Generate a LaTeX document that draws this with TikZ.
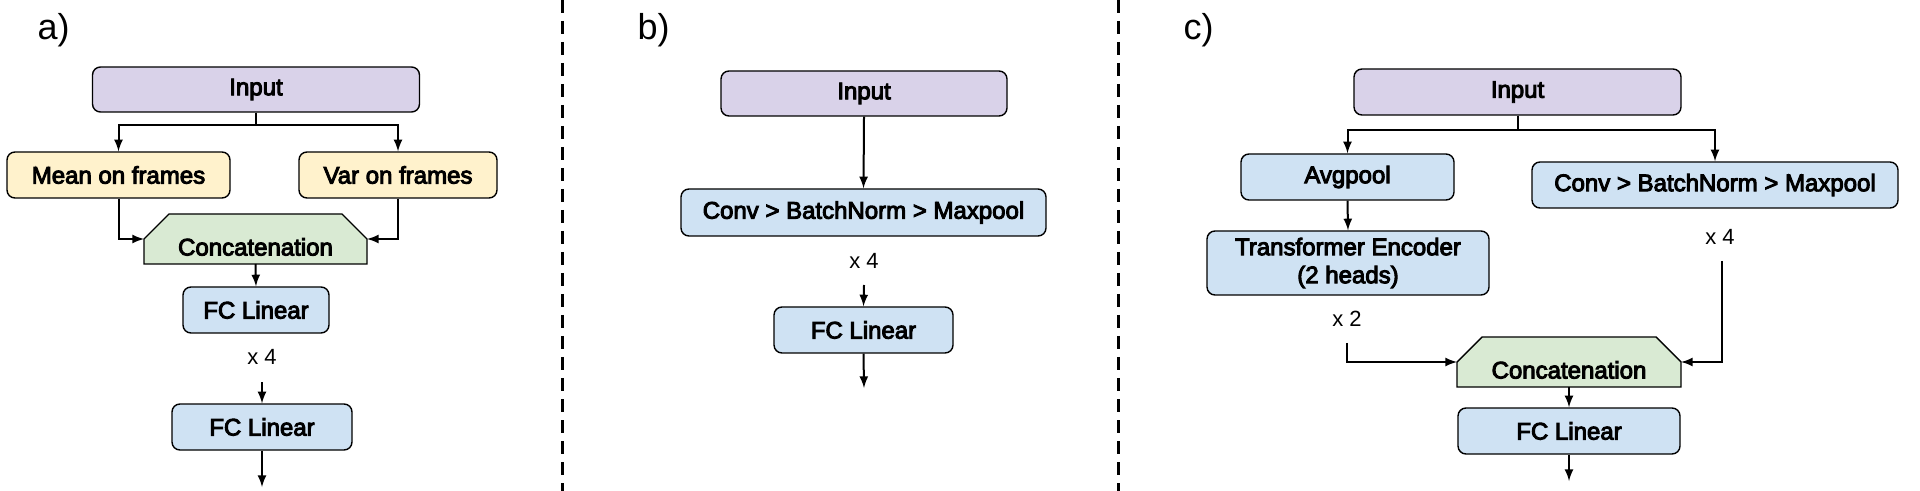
\documentclass[tikz,border=0pt]{standalone}
\usepackage{fontspec}
\setmainfont{Liberation Sans}
\newfontfamily\medfont{Liberation Sans}[FakeBold=4]
\usetikzlibrary{arrows}
\usetikzlibrary{backgrounds}
\tikzset{>=latex}
\definecolor{inputcol}{HTML}{D9D2E9}
\definecolor{statcol}{HTML}{FFF2CC}
\definecolor{concatcol}{HTML}{D9EAD3}
\definecolor{layercol}{HTML}{CFE2F3}
\def\flowthickness{1pt}
\def\boxthickness{0.7pt}
% chamfered outline behind a concat node
\newcommand{\concatshape}[1]{%
  \begin{pgfonlayer}{background}
    \draw[-, fill=concatcol, line width=\boxthickness] (#1.south west) -- (#1.south east) -- (#1.east)
      -- ([xshift=-12.5pt]#1.north east) -- ([xshift=12.5pt]#1.north west) -- (#1.west) -- cycle;
  \end{pgfonlayer}}
\tikzset{
  block/.style={draw, rounded corners=4pt, line width=\boxthickness, minimum height=23pt,
    inner sep=2pt, align=center, font=\medfont\fontsize{12}{14}\selectfont},
  inputbox/.style={block, fill=inputcol},
  statbox/.style={block, fill=statcol},
  layerbox/.style={block, fill=layercol},
  concatbox/.style={rectangle, outer sep=0pt, inner sep=0pt, minimum width=111.5pt,
    minimum height=25pt, text height=16.5pt, text depth=0pt, font=\medfont\fontsize{12}{14}\selectfont},
  reptext/.style={font=\fontsize{11}{13}\selectfont},
  panellabel/.style={anchor=base west, font=\fontsize{18}{20}\selectfont},
}

\begin{document}
\begin{tikzpicture}[x=0.5pt, y=-0.5pt, ->, line width=\flowthickness]
    \useasboundingbox (0, 0) rectangle (1920, 491);
    % separators
    \draw[-, dash pattern=on 6.5pt off 4pt, line width=1.5pt] (562, 0) -- (562, 491);
    \draw[-, dash pattern=on 6.5pt off 4pt, line width=1.5pt] (1118, 0) -- (1118, 491);

    % a)
    \node[panellabel] at (30, 40) (alabel) {a)};
    \node[inputbox, minimum width=163.5pt, minimum height=22.5pt] at (256, 89.5) (ainput) {Input};
    \node[statbox, minimum width=111.5pt] at (118.5, 175) (amean) {Mean on frames};
    \node[statbox, minimum width=99pt] at (398, 175) (avar) {Var on frames};
    \node[concatbox] at (255.5, 239) (aconcat) {Concatenation};
    \node[layerbox, minimum width=73pt] at (256, 310) (afc1) {FC Linear};
    \node[reptext] at (262, 357) (arep) {x 4};
    \coordinate (astart) at (262, 382);
    \node[layerbox, minimum width=90pt] at (262, 427) (afc2) {FC Linear};
    \coordinate (aend) at (262, 487);
    \draw (ainput.south) -- ++(0, 12) -| (amean.north);
    \draw (ainput.south) -- ++(0, 12) -| (avar.north);
    \draw (amean.south) |- (aconcat.west);
    \draw (avar.south) |- (aconcat.east);
    \draw (aconcat.south) -- (afc1.north);
    \draw (astart) -- (afc2.north);
    \draw (afc2.south) -- (aend);

    % b)
    \node[panellabel] at (630, 40) (blabel) {b)};
    \node[inputbox, minimum width=143pt, minimum height=22.5pt] at (864, 93.5) (binput) {Input};
    \node[layerbox, minimum width=182.5pt, minimum height=23.5pt] at (863.5, 212.5) (bconv) {Conv > BatchNorm > Maxpool};
    \node[reptext] at (864, 261) (brep) {x 4};
    \coordinate (bstart) at (864, 285);
    \node[layerbox, minimum width=89.5pt] at (863.5, 330) (bfc) {FC Linear};
    \coordinate (bend) at (864, 388);
    \draw (binput.south) -- (bconv.north);
    \draw (bstart) -- (bfc.north);
    \draw (bfc.south) -- (bend);

    % c)
    \node[panellabel] at (1176, 40) (clabel) {c)};
    \node[inputbox, minimum width=163.5pt] at (1517.5, 92) (cinput) {Input};
    \node[layerbox, minimum width=106.5pt] at (1347.5, 177) (cavg) {Avgpool};
    \node[layerbox, minimum width=183pt] at (1715, 185) (cconv) {Conv > BatchNorm > Maxpool};
    \node[layerbox, minimum width=141pt, minimum height=32pt] at (1348, 263) (ctrans) {Transformer Encoder\\(2 heads)};
    \node[reptext] at (1347, 319) (crep2) {x 2};
    \node[reptext] at (1720, 237) (crep4) {x 4};
    \coordinate (cstart2) at (1347, 343);
    \coordinate (cstart4) at (1722, 261);
    \node[concatbox, minimum width=112pt] at (1569, 362) (cconcat) {Concatenation};
    \node[layerbox, minimum width=111pt] at (1569, 431) (cfc) {FC Linear};
    \coordinate (cend) at (1569, 481);
    \draw (cinput.south) -- ++(0, 14) -| (cavg.north);
    \draw (cinput.south) -- ++(0, 14) -| (cconv.north);
    \draw (cavg.south) -- (ctrans.north);
    \draw (cstart2) |- (cconcat.west);
    \draw (cstart4) |- (cconcat.east);
    \draw (cconcat.south) -- (cfc.north);
    \draw (cfc.south) -- (cend);

    \concatshape{aconcat}
    \concatshape{cconcat}
\end{tikzpicture}
\end{document}
